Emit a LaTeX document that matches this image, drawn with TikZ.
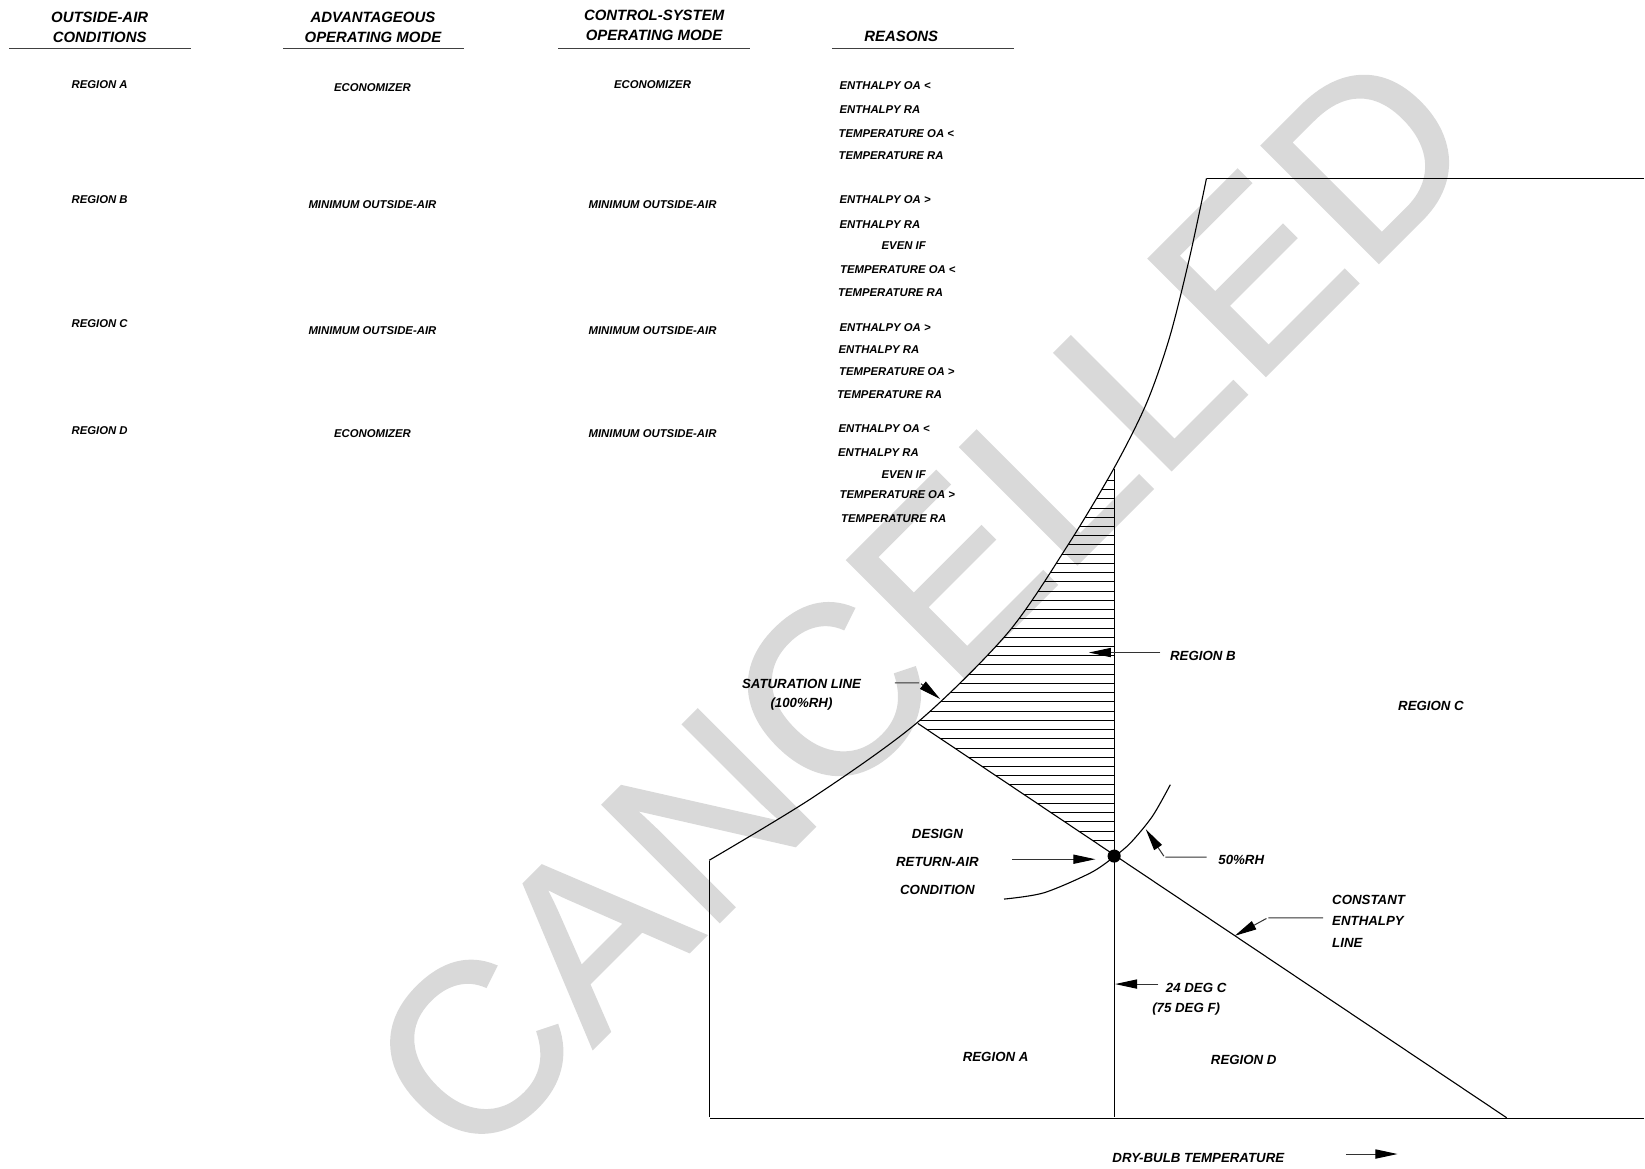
\documentclass[tikz,border=0pt]{standalone}
\usepackage{fontspec}
\setmainfont{Liberation Sans}
\newfontfamily\stampfont[FakeBold=1.2]{Liberation Sans}
\usetikzlibrary{arrows.meta}
\pgfdeclarelayer{stamplayer}
\pgfdeclarelayer{edgelayer}
\pgfdeclarelayer{nodelayer}
\pgfsetlayers{stamplayer,edgelayer,nodelayer,main}
\definecolor{stampgrey}{RGB}{217,217,217}
\tikzstyle{none}=[inner sep=0pt, outer sep=0pt]
\tikzstyle{edge}=[draw=black, line width=0.6pt]
\tikzstyle{hatch}=[draw=black, line width=0.5pt]
\tikzstyle{headrule}=[draw=black!75, line width=0.7pt]
\tikzstyle{pointer}=[draw=black!80, line width=0.55pt, -{Triangle[length=12pt, width=5pt, color=black]}]
\tikzstyle{dot}=[circle, fill=black, inner sep=0pt, minimum size=2.5mm]
\tikzstyle{heading}=[inner sep=0pt, align=center, font=\fontsize{8.1pt}{10.8pt}\selectfont\bfseries\itshape]
\tikzstyle{cell}=[inner sep=0pt, font=\fontsize{6.15pt}{7pt}\selectfont\bfseries\itshape]
\tikzstyle{tag}=[inner sep=0pt, font=\fontsize{7.2pt}{9pt}\selectfont\bfseries\itshape]
\tikzstyle{stamp}=[inner sep=0pt, text=stampgrey, rotate=45, font=\stampfont\fontsize{130pt}{130pt}\selectfont]

\begin{document}
\begin{tikzpicture}[x=0.02cm, y=-0.02cm]
				\useasboundingbox (0,0) rectangle (1568,1114);
				\begin{pgfonlayer}{stamplayer}
					\node [style=stamp] (90) at (877.5, 575.5) {CANCELLED};
				\end{pgfonlayer}
				\begin{pgfonlayer}{nodelayer}
					% table
					\node [style=heading] (40) at (95, 26) {OUTSIDE-AIR\\CONDITIONS};
					\node [style=heading] (41) at (355.5, 26) {ADVANTAGEOUS\\OPERATING MODE};
					\node [style=heading] (42) at (623.5, 24.5) {CONTROL-SYSTEM\\OPERATING MODE};
					\node [style=heading] (43) at (859, 35) {REASONS};
					\node [style=none] (44) at (8, 46.5) {};
					\node [style=none] (45) at (183, 46.5) {};
					\node [style=none] (46) at (269, 46.5) {};
					\node [style=none] (47) at (443.5, 46.5) {};
					\node [style=none] (48) at (531, 46.5) {};
					\node [style=none] (49) at (716, 46.5) {};
					\node [style=none] (38) at (792, 46.5) {};
					\node [style=none] (39) at (967, 46.5) {};
					\node [style=cell] (50) at (95, 81) {REGION A};
					\node [style=cell] (51) at (95, 190) {REGION B};
					\node [style=cell] (52) at (95, 308) {REGION C};
					\node [style=cell] (53) at (95, 410) {REGION D};
					\node [style=cell] (54) at (355, 83.5) {ECONOMIZER};
					\node [style=cell] (55) at (355, 195) {MINIMUM OUTSIDE-AIR};
					\node [style=cell] (56) at (355, 315) {MINIMUM OUTSIDE-AIR};
					\node [style=cell] (57) at (355, 413) {ECONOMIZER};
					\node [style=cell] (58) at (622, 80.5) {ECONOMIZER};
					\node [style=cell] (59) at (622, 195) {MINIMUM OUTSIDE-AIR};
					\node [style=cell] (60) at (622, 315) {MINIMUM OUTSIDE-AIR};
					\node [style=cell] (61) at (622, 413) {MINIMUM OUTSIDE-AIR};
					\node [style=cell, anchor=west] (62) at (800, 82) {ENTHALPY OA <};
					\node [style=cell, anchor=west] (63) at (800, 104) {ENTHALPY RA};
					\node [style=cell, anchor=west] (64) at (799, 127) {TEMPERATURE OA <};
					\node [style=cell, anchor=west] (65) at (799, 148) {TEMPERATURE RA};
					\node [style=cell, anchor=west] (66) at (800, 190.5) {ENTHALPY OA >};
					\node [style=cell, anchor=west] (67) at (800, 214) {ENTHALPY RA};
					\node [style=cell, anchor=west] (68) at (840, 234.5) {EVEN IF};
					\node [style=cell, anchor=west] (69) at (800.5, 257) {TEMPERATURE OA <};
					\node [style=cell, anchor=west] (70) at (798.5, 278.5) {TEMPERATURE RA};
					\node [style=cell, anchor=west] (71) at (800, 312.5) {ENTHALPY OA >};
					\node [style=cell, anchor=west] (72) at (799, 333.5) {ENTHALPY RA};
					\node [style=cell, anchor=west] (73) at (799.5, 354.5) {TEMPERATURE OA >};
					\node [style=cell, anchor=west] (74) at (797.5, 376.5) {TEMPERATURE RA};
					\node [style=cell, anchor=west] (75) at (799, 408.5) {ENTHALPY OA <};
					\node [style=cell, anchor=west] (76) at (798.5, 431.5) {ENTHALPY RA};
					\node [style=cell, anchor=west] (77) at (840, 452) {EVEN IF};
					\node [style=cell, anchor=west] (78) at (800, 471.5) {TEMPERATURE OA >};
					\node [style=cell, anchor=west] (79) at (801.5, 494.5) {TEMPERATURE RA};
					% chart
					\node [style=none] (0) at (676, 820) {};
					\node [style=none] (1) at (676, 1066) {};
					\node [style=none] (2) at (1568, 1066) {};
					\node [style=none] (3) at (874, 689) {};
					\node [style=dot] (4) at (1062, 816) {};
					\node [style=none] (5) at (1062, 446) {};
					\node [style=none] (6) at (1062, 1066) {};
					\node [style=none] (7) at (1437, 1066) {};
					\node [style=none] (8) at (1150, 170) {};
					\node [style=none] (9) at (1568, 170) {};
					\node [style=none] (20) at (852, 651) {};
					\node [style=none] (21) at (877, 651) {};
					\node [style=none] (22) at (897, 667) {};
					\node [style=none] (23) at (1107, 622) {};
					\node [style=none] (24) at (1037, 622) {};
					\node [style=none] (25) at (964, 819) {};
					\node [style=none] (26) at (1045, 819) {};
					\node [style=none] (27) at (1151, 817) {};
					\node [style=none] (28) at (1110, 817) {};
					\node [style=none] (29) at (1091.5, 789.5) {};
					\node [style=none] (30) at (1262, 875) {};
					\node [style=none] (31) at (1208, 875) {};
					\node [style=none] (32) at (1176, 892.5) {};
					\node [style=none] (33) at (1105, 938) {};
					\node [style=none] (34) at (1062, 938) {};
					\node [style=none] (35) at (1282, 1100) {};
					\node [style=none] (36) at (1333, 1100) {};
					\node [style=tag, align=center, font=\fontsize{7.2pt}{10.2pt}\selectfont\bfseries\itshape] (80) at (764, 662.5) {SATURATION LINE\\(100\%RH)};
					\node [style=tag, anchor=west] (81) at (1115, 625.5) {REGION B};
					\node [style=tag, align=center, font=\fontsize{7.2pt}{15.1pt}\selectfont\bfseries\itshape] (82) at (893.5, 821.5) {DESIGN\\RETURN-AIR\\CONDITION};
					\node [style=tag, anchor=west] (83) at (1161, 819.5) {50\%RH};
					\node [style=tag, anchor=west, align=left, font=\fontsize{7.2pt}{11.8pt}\selectfont\bfseries\itshape] (84) at (1269.5, 878) {CONSTANT\\ENTHALPY\\LINE};
					\node [style=tag, anchor=west] (85) at (1111, 941.5) {24 DEG C};
					\node [style=tag, anchor=west] (86) at (1098, 962) {(75 DEG F)};
					\node [style=tag] (87) at (949, 1007.5) {REGION A};
					\node [style=tag] (88) at (1185.5, 1010.5) {REGION D};
					\node [style=tag] (89) at (1364, 673) {REGION C};
					\node [style=tag, anchor=west] (91) at (1060, 1103.5) {DRY-BULB TEMPERATURE};
				\end{pgfonlayer}
				\begin{pgfonlayer}{edgelayer}
					\draw [style=headrule] (44) to (45);
					\draw [style=headrule] (46) to (47);
					\draw [style=headrule] (48) to (49);
					\draw [style=headrule] (38) to (39);
					% saturation line
					\draw [style=edge] plot [smooth] coordinates {(676,820) (775,760) (874,689) (960,604) (1017,521) (1062,446) (1093,384) (1115,321) (1134,245) (1150,170)};
					\draw [style=edge] (8) to (9);
					\draw [style=edge] (0) to (1);
					\draw [style=edge] (1) to (2);
					\draw [style=edge] (5) to (6);
					\draw [style=edge] (3) to (7);
					% 50% rh
					\draw [style=edge] plot [smooth] coordinates {(957,857) (995,851) (1039.5,832) (1062,816.6) (1078,803) (1098.5,778) (1115.5,748)};
					% region b
					\begin{scope}
						\clip plot [smooth] coordinates {(676,820) (775,760) (874,689) (960,604) (1017,521) (1062,446) (1093,384) (1115,321) (1134,245) (1150,170)} -- (1568,100) -- (1568,1114) -- (676,1114) -- cycle;
						\clip (874,689) -- (1062,815) -- (1062,400) -- (800,400) -- (800,689) -- cycle;
						\foreach \k in {0,...,39}
							\draw [style=hatch] (850,801-\k*8.8) -- (1070,801-\k*8.8);
					\end{scope}
					\draw [style=pointer] (20) to (21) to (22);
					\draw [style=pointer] (23) to (24);
					\draw [style=pointer] (25) to (26);
					\draw [style=pointer] (27) to (28) to (29);
					\draw [style=pointer] (30) to (31) to (32);
					\draw [style=pointer] (33) to (34);
					\draw [style=pointer] (35) to (36);
				\end{pgfonlayer}
			\end{tikzpicture}
\end{document}
